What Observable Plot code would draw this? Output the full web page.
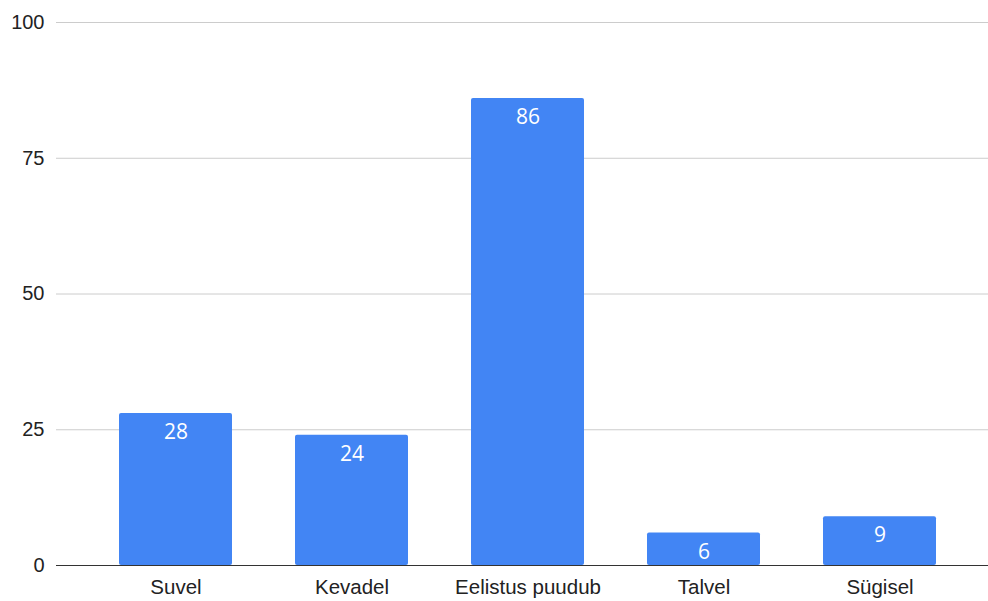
<!DOCTYPE html>
<html>
<head>
<meta charset="utf-8">
<script src="https://cdn.jsdelivr.net/npm/d3@7"></script>
<script src="https://cdn.jsdelivr.net/npm/@observablehq/plot@0.6"></script>
<style>
  body { margin: 0; background: #fff; }
  #chart svg { display: block; }
</style>
</head>
<body>
<div id="chart"></div>
<script>
const categories = ["Suvel", "Kevadel", "Eelistus puudub", "Talvel", "Sügisel"];
const values = [28, 24, 86, 6, 9];
const yTicks = [0, 25, 50, 75, 100];

const data = categories.map((c, i) => ({category: c, value: values[i]}));

const chart = Plot.plot({
  width: 988,
  height: 601,
  marginTop: 22,
  marginBottom: 36,
  marginLeft: 56,
  marginRight: 0,
  style: {fontFamily: "'Liberation Sans', Arial, sans-serif", background: "#fff"},
  x: {
    domain: categories,
    type: "band",
    range: [86.5, 967.5],
    paddingInner: 0.36,
    paddingOuter: 0.18,
    label: null
  },
  y: {domain: [0, 100], label: null},
  marks: [
    Plot.ruleY(yTicks.filter(d => d !== 0), {stroke: "#cccccc", strokeWidth: 1}),
    Plot.barY(data, {x: "category", y: "value", fill: "#4285f4", rx: 2, ry: 2}),
    Plot.ruleY([0], {stroke: "#333333", strokeWidth: 1}),
    Plot.text(data, {
      x: "category", y: "value", text: d => String(d.value),
      dy: 19, fill: "#ffffff", fontSize: 21, fontWeight: 500,
      fontFamily: "'Open Sans', 'Noto Sans', sans-serif"
    }),
    Plot.axisY(yTicks, {
      tickSize: 0, tickPadding: 12, fontSize: 20, fill: "#222222",
      tickFormat: d => String(d), label: null
    }),
    Plot.axisX({
      tickSize: 0, tickPadding: 14, fontSize: 20.5, fill: "#222222", label: null
    })
  ]
});
document.getElementById("chart").appendChild(chart);
</script>
</body>
</html>
